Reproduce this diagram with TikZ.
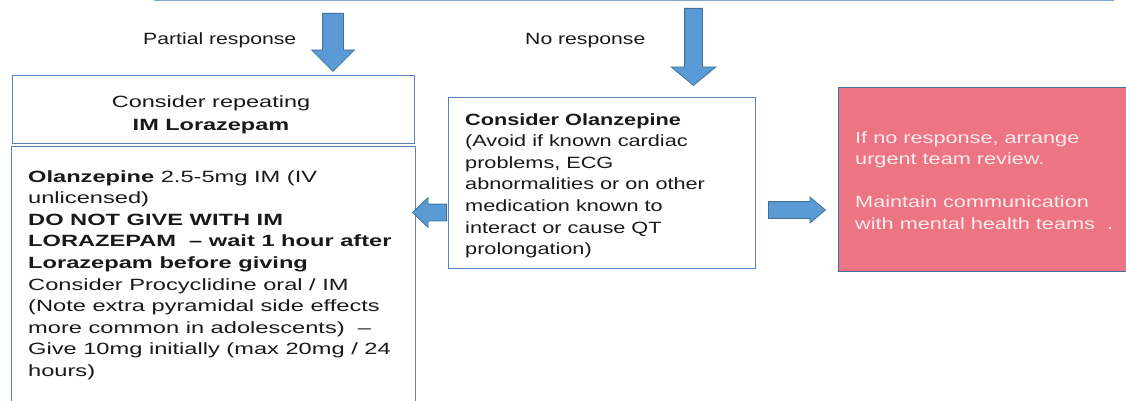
\documentclass[tikz,border=0pt]{standalone}
\usepackage{fontspec}
\setmainfont{Liberation Sans}
\usepackage{graphicx}
\usetikzlibrary{shapes.arrows,positioning}
\definecolor{borde}{RGB}{84,130,185}
\definecolor{lineasup}{RGB}{130,165,205}
\definecolor{flecha}{RGB}{91,155,213}
\definecolor{flechaborde}{RGB}{65,113,156}
\definecolor{rosa}{RGB}{237,117,131}
\definecolor{rosaclaro}{RGB}{252,236,239}
\definecolor{tinta}{RGB}{25,25,25}
\newcommand{\ancho}[3][1.33]{\scalebox{#1}[1]{\begin{tabular}[t]{@{}#2@{}}#3\end{tabular}}}
\tikzset{
  caja/.style={draw=borde, line width=1.1pt, fill=white, anchor=north west, inner sep=0pt},
  alerta/.style={caja, fill=rosa, draw=flechaborde},
  txt/.style={inner sep=0pt, text=tinta, anchor=base west, font=\fontsize{16.3}{21.6}\selectfont},
  gordo/.style={single arrow, draw=flechaborde, fill=flecha, line width=0.8pt, inner xsep=0pt, anchor=tail},
}

\begin{document}
\begin{tikzpicture}[x=1pt,y=1pt]
  \useasboundingbox (0,0) rectangle (1126,-401);
  % boxes
  \node[caja, draw=lineasup, anchor=south west, minimum width=959pt, minimum height=40pt] (prev) at (154,-1) {};
  \node[caja, minimum width=402pt, minimum height=68pt] (rep) at (12,-75) {};
  \node[caja, minimum width=404pt, minimum height=280pt] (olz) at (11,-146) {};
  \node[caja, minimum width=307pt, minimum height=171pt] (cons) at (448,-97) {};
  \node[alerta, minimum width=300pt, minimum height=184pt] (rev) at (838,-87) {};

  % block arrows
  \node[gordo, rotate=-90, inner ysep=10pt, minimum height=58pt, single arrow head extend=11pt, single arrow tip angle=90] (fPartial) at (333,-13) {};
  \node[gordo, rotate=-90, inner ysep=8.5pt, minimum height=77pt, single arrow head extend=13.5pt, single arrow tip angle=101] (fNo) at (693.5,-8) {};
  \node[gordo, rotate=180, inner ysep=8pt, minimum height=34pt, single arrow head extend=6.5pt, single arrow tip angle=88] (fIzq) at (447,-212.5) {};
  \node[gordo, inner ysep=8pt, minimum height=57pt, single arrow head extend=4.5pt, single arrow tip angle=80] (fDer) at (768,-210) {};

  % texts
  \node[txt] (lPartial) at (143,-45) {\ancho[1.3]{l}{Partial response}};
  \node[txt] (lNo) at (525,-45) {\ancho[1.3]{l}{No response}};
  \node[txt, anchor=base] (tRep) at (211,-107) {\ancho[1.44]{c}{Consider repeating\\[1.4pt] \textbf{IM Lorazepam}}};
  \node[txt] (tOlz) at (28,-182) {\ancho[1.45]{l}{\textbf{Olanzepine} 2.5-5mg IM (IV\\ unlicensed)\\ \textbf{DO NOT GIVE WITH IM}\\ \textbf{LORAZEPAM\ \ -- wait 1 hour after}\\ \textbf{Lorazepam before giving}\\ Consider Procyclidine oral / IM\\ (Note extra pyramidal side effects\\ more common in adolescents)\ \ --\\ Give 10mg initially (max 20mg / 24\\ hours)}};
  \node[txt] (tCons) at (465,-125) {\ancho{l}{\textbf{Consider Olanzepine}\\ (Avoid if known cardiac\\ problems, ECG\\ abnormalities or on other\\ medication known to\\ interact or cause QT\\ prolongation)}};
  \node[txt, text=rosaclaro] (tRev) at (855,-143) {\ancho{l}{If no response, arrange\\ urgent team review.\\[21.6pt] Maintain communication\\ with mental health teams\ \ .}};
\end{tikzpicture}
\end{document}
